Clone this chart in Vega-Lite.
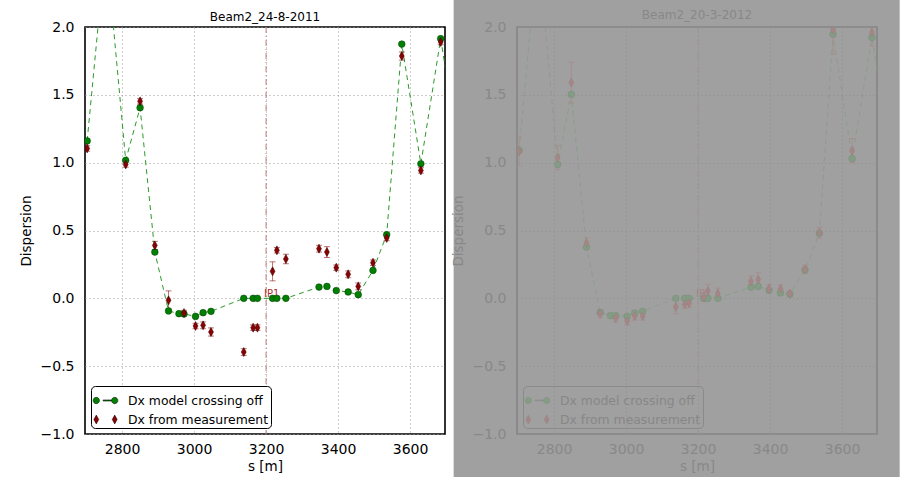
{
 "$schema": "https://vega.github.io/schema/vega-lite/v6.json",
 "background": "white",
 "padding": {"left": 18, "top": 0, "right": 0, "bottom": 0},
 "autosize": {"type": "pad"},
 "bounds": "flush",
 "spacing": 72,
 "config": {
  "font": "DejaVu Sans",
  "axis": {"labelFont": "DejaVu Sans", "labelFontSize": 14, "titleFont": "DejaVu Sans", "titleFontSize": 13.5, "titleFontWeight": "normal", "ticks": false, "domain": false, "grid": true, "gridDash": [1, 3], "gridColor": "#9a9a9a", "labelFlush": false, "labelColor": "#000", "titleColor": "#000"},
  "axisY": {"labelPadding": 11, "titlePadding": 7},
  "axisX": {"labelPadding": 8, "titlePadding": 3},
  "title": {"font": "DejaVu Sans", "fontSize": 12, "fontWeight": "normal"},
  "legend": {"title": null, "orient": "bottom-left", "offset": 6, "padding": 2, "rowPadding": -1.8, "cornerRadius": 4, "labelFontSize": 12.4, "labelFont": "DejaVu Sans", "symbolSize": 557, "labelOffset": 10, "symbolStrokeWidth": 0.5}
 },
 "datasets": {
  "left": [
   {"s": 2703, "model": 1.16, "meas": 1.105, "err": 0.02},
   {"s": 2755, "model": 2.61, "meas": null, "err": null},
   {"s": 2810, "model": 1.017, "meas": 0.987, "err": 0.02},
   {"s": 2850, "model": 1.405, "meas": 1.452, "err": 0.02},
   {"s": 2891, "model": 0.341, "meas": 0.39, "err": 0.03},
   {"s": 2929, "model": -0.093, "meas": -0.015, "err": 0.07},
   {"s": 2958, "model": -0.113, "meas": null, "err": null},
   {"s": 2972, "model": -0.115, "meas": -0.108, "err": 0.02},
   {"s": 3004, "model": -0.133, "meas": -0.204, "err": 0.02},
   {"s": 3025, "model": -0.106, "meas": -0.199, "err": 0.025},
   {"s": 3047, "model": -0.096, "meas": -0.248, "err": 0.03},
   {"s": 3138, "model": 0.0, "meas": -0.396, "err": 0.025},
   {"s": 3164, "model": 0.0, "meas": -0.216, "err": 0.02},
   {"s": 3176, "model": 0.0, "meas": -0.216, "err": 0.02},
   {"s": 3218, "model": 0.0, "meas": 0.199, "err": 0.07},
   {"s": 3230, "model": 0.0, "meas": 0.354, "err": 0.02},
   {"s": 3255, "model": 0.0, "meas": 0.29, "err": 0.035},
   {"s": 3347, "model": 0.083, "meas": 0.366, "err": 0.025},
   {"s": 3369, "model": 0.088, "meas": 0.341, "err": 0.04},
   {"s": 3395, "model": 0.057, "meas": 0.226, "err": 0.02},
   {"s": 3428, "model": 0.047, "meas": 0.177, "err": 0.025},
   {"s": 3456, "model": 0.027, "meas": 0.088, "err": 0.025},
   {"s": 3497, "model": 0.206, "meas": 0.263, "err": 0.02},
   {"s": 3535, "model": 0.469, "meas": 0.445, "err": 0.02},
   {"s": 3577, "model": 1.874, "meas": 1.786, "err": 0.03},
   {"s": 3630, "model": 0.992, "meas": 0.943, "err": 0.02},
   {"s": 3685, "model": 1.914, "meas": 1.889, "err": 0.02},
   {"s": 3720, "model": 1.33, "meas": null, "err": null}
  ],
  "right": [
   {"s": 2703, "model": 1.09, "meas": 1.085, "err": 0.11},
   {"s": 2755, "model": 2.6, "meas": null, "err": null},
   {"s": 2810, "model": 0.987, "meas": 1.037, "err": 0.09},
   {"s": 2848, "model": 1.503, "meas": 1.59, "err": 0.15},
   {"s": 2890, "model": 0.378, "meas": 0.408, "err": 0.04},
   {"s": 2928, "model": -0.105, "meas": -0.113, "err": 0.03},
   {"s": 2957, "model": -0.128, "meas": null, "err": null},
   {"s": 2971, "model": -0.128, "meas": -0.145, "err": 0.03},
   {"s": 3003, "model": -0.133, "meas": -0.167, "err": 0.03},
   {"s": 3024, "model": -0.108, "meas": -0.13, "err": 0.03},
   {"s": 3046, "model": -0.096, "meas": -0.13, "err": 0.03},
   {"s": 3138, "model": 0.0, "meas": -0.064, "err": 0.05},
   {"s": 3163, "model": 0.0, "meas": -0.044, "err": 0.03},
   {"s": 3175, "model": 0.0, "meas": -0.035, "err": 0.03},
   {"s": 3216, "model": 0.0, "meas": 0.01, "err": 0.03},
   {"s": 3227, "model": 0.0, "meas": 0.054, "err": 0.05},
   {"s": 3255, "model": 0.0, "meas": 0.035, "err": 0.04},
   {"s": 3347, "model": 0.083, "meas": 0.125, "err": 0.04},
   {"s": 3367, "model": 0.088, "meas": 0.138, "err": 0.05},
   {"s": 3397, "model": 0.059, "meas": 0.071, "err": 0.03},
   {"s": 3429, "model": 0.04, "meas": 0.07, "err": 0.03},
   {"s": 3455, "model": 0.03, "meas": 0.035, "err": 0.02},
   {"s": 3497, "model": 0.21, "meas": 0.214, "err": 0.03},
   {"s": 3537, "model": 0.48, "meas": 0.484, "err": 0.04},
   {"s": 3575, "model": 1.947, "meas": 1.98, "err": 0.18},
   {"s": 3628, "model": 1.03, "meas": 1.088, "err": 0.09},
   {"s": 3683, "model": 1.923, "meas": 1.96, "err": 0.1},
   {"s": 3720, "model": 1.33, "meas": null, "err": null}
  ],
  "ip": [{"s": 3200, "label": "IP1"}],
  "leg": [{"series": "Dx model crossing off"}, {"series": "Dx from measurement"}]
 },
 "resolve": {"scale": {"color": "independent", "shape": "independent", "x": "independent", "y": "independent"}, "legend": {"color": "independent", "shape": "independent"}},
 "hconcat": [
  {
   "width": 360, "height": 407,
   "title": {"text": "Beam2_24-8-2011", "offset": -4},
   "view": {"stroke": "#000", "strokeWidth": 1.6},
   "data": {"name": "left"},
   "layer": [
    {"data": {"name": "ip"}, "mark": {"type": "rule", "color": "#c07a7a", "strokeDash": [6, 3, 1, 3], "strokeWidth": 1},
     "encoding": {"x": {"field": "s", "type": "quantitative", "title": "s [m]", "scale": {"domain": [2697, 3697], "nice": false, "zero": false}, "axis": {"values": [2800, 3000, 3200, 3400, 3600], "format": "d"}}}},
    {"data": {"name": "ip"}, "mark": {"type": "text", "align": "left", "baseline": "alphabetic", "dx": -2, "dy": -1, "fontSize": 10, "color": "#a83030"},
     "encoding": {"x": {"field": "s", "type": "quantitative", "title": "s [m]"}, "y": {"datum": 0, "type": "quantitative", "title": "Dispersion", "scale": {"domain": [-1, 2], "nice": false, "zero": false}, "axis": {"values": [-1, -0.5, 0, 0.5, 1, 1.5, 2], "format": ".1f"}}, "text": {"field": "label"}}},
    {"mark": {"type": "line", "color": "#2a9a2a", "strokeDash": [5, 4], "strokeWidth": 1, "clip": true},
     "encoding": {"x": {"field": "s", "type": "quantitative", "title": "s [m]"}, "y": {"field": "model", "type": "quantitative", "title": "Dispersion"}}},
    {"transform": [{"filter": "datum.meas != null"}], "mark": {"type": "errorbar", "ticks": {"size": 6}, "color": "#8b0000", "opacity": 0.55, "clip": true},
     "encoding": {"x": {"field": "s", "type": "quantitative", "title": "s [m]"}, "y": {"field": "meas", "type": "quantitative", "title": "Dispersion"}, "yError": {"field": "err"}}},
    {"mark": {"type": "point", "shape": "circle", "filled": true, "size": 45, "color": "#008000", "stroke": "#0a3a0a", "strokeWidth": 0.5, "opacity": 1, "clip": true},
     "encoding": {"x": {"field": "s", "type": "quantitative", "title": "s [m]"}, "y": {"field": "model", "type": "quantitative", "title": "Dispersion"}}},
    {"transform": [{"filter": "datum.meas != null"}], "mark": {"type": "point", "shape": "M0,-1L0.55,0L0,1L-0.55,0Z", "filled": true, "size": 81, "color": "#8b0000", "stroke": "#300000", "strokeWidth": 0.5, "opacity": 1, "clip": true},
     "encoding": {"x": {"field": "s", "type": "quantitative", "title": "s [m]"}, "y": {"field": "meas", "type": "quantitative", "title": "Dispersion"}}},
    {"data": {"name": "leg"}, "mark": {"type": "point", "filled": true, "stroke": "#000000", "strokeWidth": 0.5, "opacity": 1, "clip": true},
     "encoding": {"x": {"field": "s", "type": "quantitative", "title": "s [m]"}, "y": {"field": "model", "type": "quantitative", "title": "Dispersion"},
      "color": {"field": "series", "type": "nominal", "scale": {"domain": ["Dx model crossing off", "Dx from measurement"], "range": ["#008000", "#8b0000"]},
       "legend": {"fillColor": "#ffffff", "strokeColor": "#000000", "labelColor": "#000000"}},
      "shape": {"field": "series", "type": "nominal", "scale": {"domain": ["Dx model crossing off", "Dx from measurement"], "range": ["M-1.05,0A0.27,0.27 0 1,0 -0.51,0A0.27,0.27 0 1,0 -1.05,0ZM0.51,0A0.27,0.27 0 1,0 1.05,0A0.27,0.27 0 1,0 0.51,0ZM-0.2,-0.05L0.5,-0.05L0.5,0.05L-0.2,0.05Z", "M-0.78,-0.38L-0.57,0L-0.78,0.38L-0.99,0ZM0.78,-0.38L0.99,0L0.78,0.38L0.57,0Z"]},
       "legend": {"fillColor": "#ffffff", "strokeColor": "#000000", "labelColor": "#000000"}}}}
   ]
  },
  {
   "width": 360, "height": 407,
   "title": {"text": "Beam2_20-3-2012", "color": "#888888", "zindex": 1, "offset": -22},
   "view": {"stroke": null},
   "data": {"name": "right"},
   "layer": [
    {"data": {"values": [{"k": 1}]}, "mark": {"type": "rect", "color": "#a0a0a0", "clip": false},
     "encoding": {"x": {"datum": 2521, "type": "quantitative", "title": "s [m]", "scale": {"domain": [2697, 3697], "nice": false, "zero": false}, "axis": {"values": [2800, 3000, 3200, 3400, 3600], "format": "d", "zindex": 1, "labelColor": "#888888", "titleColor": "#888888", "gridColor": "#8e8e8e"}}, "x2": {"datum": 3760},
      "y": {"datum": 2.199, "type": "quantitative", "title": "Dispersion", "scale": {"domain": [-1, 2], "nice": false, "zero": false}, "axis": {"values": [-1, -0.5, 0, 0.5, 1, 1.5, 2], "format": ".1f", "zindex": 1, "labelColor": "#888888", "titleColor": "#888888", "gridColor": "#8e8e8e"}}, "y2": {"datum": -1.32}}},
    {"data": {"values": [{"k": 1}]}, "mark": {"type": "rect", "filled": false, "stroke": "#858585", "strokeWidth": 1.6},
     "encoding": {"x": {"datum": 2697, "type": "quantitative", "title": "s [m]"}, "x2": {"datum": 3697}, "y": {"datum": 2, "type": "quantitative", "title": "Dispersion"}, "y2": {"datum": -1}}},
    {"data": {"name": "ip"}, "mark": {"type": "rule", "color": "#a69090", "strokeDash": [6, 3, 1, 3], "strokeWidth": 1},
     "encoding": {"x": {"field": "s", "type": "quantitative", "title": "s [m]"}}},
    {"data": {"name": "ip"}, "mark": {"type": "text", "align": "left", "baseline": "alphabetic", "dx": -2, "dy": -1, "fontSize": 10, "color": "#a08686"},
     "encoding": {"x": {"field": "s", "type": "quantitative", "title": "s [m]"}, "y": {"datum": 0, "type": "quantitative", "title": "Dispersion"}, "text": {"field": "label"}}},
    {"mark": {"type": "line", "color": "#8a9e8a", "strokeDash": [5, 4], "strokeWidth": 1, "clip": true},
     "encoding": {"x": {"field": "s", "type": "quantitative", "title": "s [m]"}, "y": {"field": "model", "type": "quantitative", "title": "Dispersion"}}},
    {"transform": [{"filter": "datum.meas != null"}], "mark": {"type": "errorbar", "ticks": {"size": 6}, "color": "#a88e8e", "opacity": 1, "clip": true},
     "encoding": {"x": {"field": "s", "type": "quantitative", "title": "s [m]"}, "y": {"field": "meas", "type": "quantitative", "title": "Dispersion"}, "yError": {"field": "err"}}},
    {"mark": {"type": "point", "shape": "circle", "filled": true, "size": 45, "color": "#849c84", "stroke": "#7a8a7a", "strokeWidth": 0.5, "opacity": 1, "clip": true},
     "encoding": {"x": {"field": "s", "type": "quantitative", "title": "s [m]"}, "y": {"field": "model", "type": "quantitative", "title": "Dispersion"}}},
    {"transform": [{"filter": "datum.meas != null"}], "mark": {"type": "point", "shape": "M0,-1L0.55,0L0,1L-0.55,0Z", "filled": true, "size": 81, "color": "#a88585", "stroke": "#928080", "strokeWidth": 0.5, "opacity": 1, "clip": true},
     "encoding": {"x": {"field": "s", "type": "quantitative", "title": "s [m]"}, "y": {"field": "meas", "type": "quantitative", "title": "Dispersion"}}},
    {"data": {"name": "leg"}, "mark": {"type": "point", "filled": true, "stroke": "#8a8a8a", "strokeWidth": 0.5, "opacity": 1, "clip": true},
     "encoding": {"x": {"field": "s", "type": "quantitative", "title": "s [m]"}, "y": {"field": "model", "type": "quantitative", "title": "Dispersion"},
      "color": {"field": "series", "type": "nominal", "scale": {"domain": ["Dx model crossing off", "Dx from measurement"], "range": ["#849c84", "#a88585"]},
       "legend": {"fillColor": "#a0a0a0", "strokeColor": "#8a8a8a", "labelColor": "#878787"}},
      "shape": {"field": "series", "type": "nominal", "scale": {"domain": ["Dx model crossing off", "Dx from measurement"], "range": ["M-1.05,0A0.27,0.27 0 1,0 -0.51,0A0.27,0.27 0 1,0 -1.05,0ZM0.51,0A0.27,0.27 0 1,0 1.05,0A0.27,0.27 0 1,0 0.51,0ZM-0.2,-0.05L0.5,-0.05L0.5,0.05L-0.2,0.05Z", "M-0.78,-0.38L-0.57,0L-0.78,0.38L-0.99,0ZM0.78,-0.38L0.99,0L0.78,0.38L0.57,0Z"]},
       "legend": {"fillColor": "#a0a0a0", "strokeColor": "#8a8a8a", "labelColor": "#878787"}}}}
   ]
  }
 ]
}
